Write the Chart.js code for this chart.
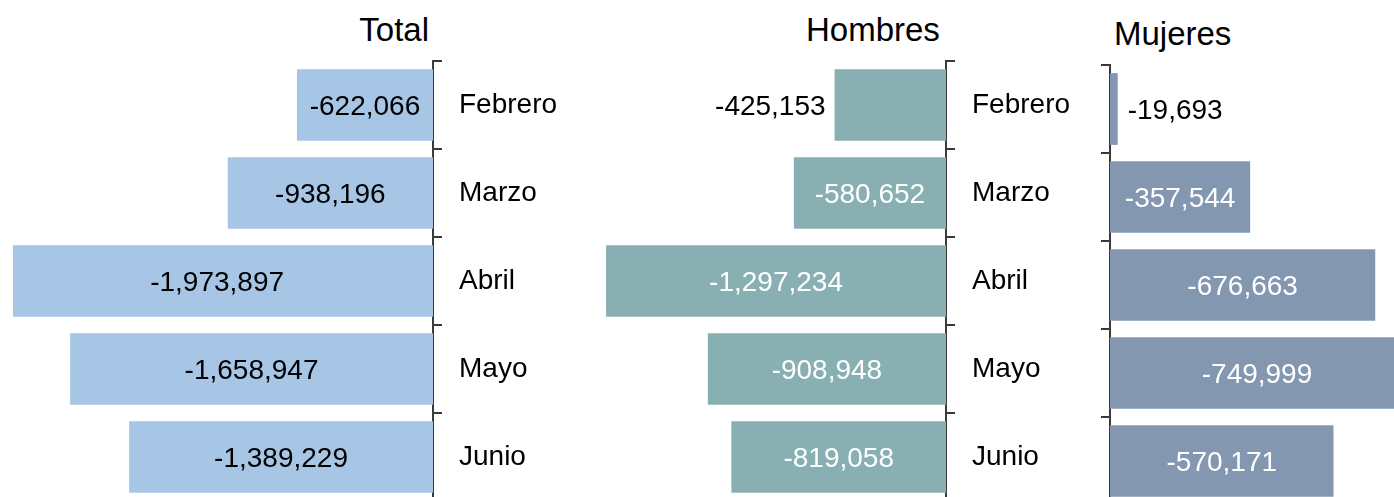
<!DOCTYPE html>
<html>
<head>
<meta charset="utf-8">
<script src="https://cdn.jsdelivr.net/npm/chart.js@4.4.1/dist/chart.umd.min.js"></script>
<style>
    html, body { margin: 0; padding: 0; width: 1394px; height: 497px; overflow: hidden; background: #fff; }
    .panel { position: absolute; top: 0; }
    .title {
        position: absolute;
        font-family: 'Liberation Sans', Arial, sans-serif;
        font-size: 33px;
        line-height: 33px;
        color: #000;
        white-space: nowrap;
    }
</style>
</head>
<body>
<div class="title" style="left:0; width:429px; text-align:right; top:13px;">Total</div>
<div class="title" style="left:806px; top:13px;">Hombres</div>
<div class="title" style="left:1114px; top:17px;">Mujeres</div>

<div class="panel" style="left:0; width:600px; height:541px;"><canvas id="chart-total"></canvas></div>
<div class="panel" style="left:560px; width:553px; height:541px;"><canvas id="chart-hombres"></canvas></div>
<div class="panel" style="left:1095px; width:299px; height:545px;"><canvas id="chart-mujeres"></canvas></div>

<script>
const months = ['Febrero', 'Marzo', 'Abril', 'Mayo', 'Junio'];
const totalValues = [-622066, -938196, -1973897, -1658947, -1389229];
const hombresValues = [-425153, -580652, -1297234, -908948, -819058];
const mujeresValues = [-19693, -357544, -676663, -749999, -570171];

const FONT = "'Liberation Sans', Arial, sans-serif";
const AXIS_COLOR = '#3a3a3a';

Chart.defaults.font.family = FONT;
Chart.defaults.color = '#000';

// draws the value of each bar, inside when it fits, otherwise past the bar end
const barValueLabels = {
    id: 'barValueLabels',
    afterDatasetsDraw(chart, args, opts) {
        const ctx = chart.ctx;
        const meta = chart.getDatasetMeta(0);
        const values = chart.data.datasets[0].data;
        ctx.save();
        ctx.font = '28px ' + FONT;
        ctx.textBaseline = 'middle';
        meta.data.forEach((bar, i) => {
            const text = values[i].toLocaleString('en-US');
            const textWidth = ctx.measureText(text).width;
            const barWidth = Math.abs(bar.x - bar.base);
            const y = bar.y + 2;
            if(barWidth > textWidth + 20) {
                ctx.fillStyle = opts.insideColor;
                ctx.textAlign = 'center';
                ctx.fillText(text, (bar.x + bar.base) / 2, y);
            } else {
                ctx.fillStyle = '#000';
                if(bar.x < bar.base) {
                    ctx.textAlign = 'right';
                    ctx.fillText(text, bar.x - 9, y);
                } else {
                    ctx.textAlign = 'left';
                    ctx.fillText(text, bar.x + 10, y);
                }
            }
        });
        ctx.restore();
    }
};

function makePanel(canvasId, values, color, cfg) {
    const ctx = document.getElementById(canvasId).getContext('2d');
    return new Chart(ctx, {
        type: 'bar',
        data: {
            labels: months,
            datasets: [{
                data: values,
                backgroundColor: color,
                borderWidth: 0,
                barPercentage: 0.815,
                categoryPercentage: 1
            }]
        },
        plugins: [barValueLabels],
        options: {
            indexAxis: 'y',
            responsive: true,
            maintainAspectRatio: false,
            animation: false,
            devicePixelRatio: 1,
            layout: { padding: cfg.padding },
            plugins: {
                legend: { display: false },
                tooltip: { enabled: false },
                title: { display: false },
                barValueLabels: { insideColor: cfg.insideColor }
            },
            scales: {
                x: {
                    display: false,
                    min: cfg.min,
                    max: cfg.max,
                    reverse: cfg.reverse
                },
                y: {
                    position: cfg.axisPosition,
                    offset: true,
                    z: 1,
                    afterFit: function(scale) {
                        scale.width = cfg.axisWidth;
                    },
                    border: {
                        display: true,
                        color: AXIS_COLOR,
                        width: 2
                    },
                    grid: {
                        offset: true,
                        drawOnChartArea: false,
                        drawTicks: true,
                        tickLength: 9,
                        color: AXIS_COLOR,
                        lineWidth: 2
                    },
                    ticks: {
                        display: cfg.showLabels,
                        padding: 17,
                        color: '#000',
                        font: { size: 28 }
                    }
                }
            }
        }
    });
}

makePanel('chart-total', totalValues, '#A7C6E5', {
    min: -1920000, max: 0, reverse: false,
    axisPosition: 'right', axisWidth: 167, showLabels: true,
    padding: { left: 13, top: 61, bottom: 40, right: 0 },
    insideColor: '#000'
});

makePanel('chart-hombres', hombresValues, '#88B0B3', {
    min: -1473000, max: 0, reverse: false,
    axisPosition: 'right', axisWidth: 167, showLabels: true,
    padding: { left: 0, top: 61, bottom: 40, right: 0 },
    insideColor: '#fff'
});

makePanel('chart-mujeres', mujeresValues, '#8497B0', {
    min: -724500, max: 0, reverse: true,
    axisPosition: 'left', axisWidth: 15, showLabels: false,
    padding: { left: 0, top: 65, bottom: 40, right: 0 },
    insideColor: '#fff'
});
</script>
</body>
</html>
